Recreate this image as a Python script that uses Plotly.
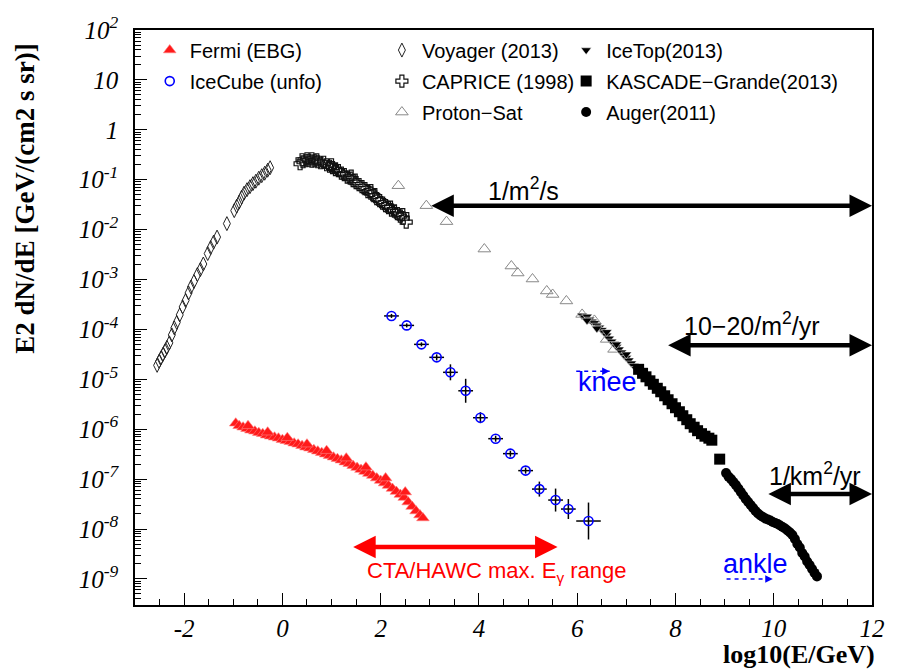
import plotly.graph_objects as go

# ---------------- data (log10 E/GeV , log10 flux) ----------------
voyager_x = [-2.55, -2.51, -2.47, -2.43, -2.39, -2.35, -2.30, -2.25, -2.20, -2.15, -2.09, -2.03,
             -1.97, -1.91, -1.86, -1.80, -1.73, -1.67, -1.61, -1.52, -1.46, -1.40, -1.33, -1.13,
             -0.98, -0.93, -0.88, -0.83, -0.78, -0.72, -0.66, -0.60, -0.54, -0.48, -0.42, -0.36,
             -0.30, -0.25]
voyager_logy = [-4.72, -4.64, -4.57, -4.50, -4.43, -4.36, -4.27, -4.11, -3.97, -3.86, -3.71, -3.55,
                -3.42, -3.27, -3.15, -3.04, -2.90, -2.80, -2.69, -2.48, -2.36, -2.25, -2.15, -1.88,
                -1.62, -1.53, -1.45, -1.35, -1.27, -1.20, -1.14, -1.08, -1.03, -0.97, -0.92, -0.87,
                -0.81, -0.76]

caprice_x = [0.36, 0.42, 0.48, 0.54, 0.60, 0.66, 0.72, 0.78, 0.84, 0.90, 0.96, 1.02, 1.08, 1.14,
             1.20, 1.26, 1.32, 1.38, 1.44, 1.50, 1.56, 1.62, 1.68, 1.74, 1.80, 1.86, 1.92, 1.98,
             2.04, 2.10, 2.16, 2.22, 2.28, 2.34, 2.40, 2.46, 2.52,
             0.40, 0.50, 0.60, 0.70, 1.00, 1.40, 1.80, 2.20, 2.45]
caprice_logy = [-0.68, -0.64, -0.62, -0.61, -0.63, -0.62, -0.64, -0.66, -0.65, -0.70, -0.73, -0.76,
                -0.80, -0.82, -0.87, -0.90, -0.95, -0.97, -1.02, -1.06, -1.10, -1.14, -1.18, -1.24,
                -1.27, -1.32, -1.38, -1.42, -1.47, -1.52, -1.56, -1.61, -1.63, -1.68, -1.73, -1.77,
                -1.85,
                -0.60, -0.58, -0.58, -0.60, -0.70, -0.93, -1.22, -1.55, -1.70]

protonsat_x = [2.36, 2.93, 3.34, 4.11, 4.66, 4.79, 5.09, 5.38, 5.50, 5.78, 6.10, 6.35, 6.60, 6.75]
protonsat_logy = [-1.12, -1.52, -1.84, -2.39, -2.73, -2.87, -2.99, -3.23, -3.30, -3.43, -3.70,
                  -3.82, -4.20, -4.40]

icetop_x = [6.10, 6.15, 6.20, 6.25, 6.30, 6.35, 6.40, 6.45, 6.50, 6.55, 6.60, 6.65, 6.70, 6.75,
            6.80, 6.85, 6.90, 6.95, 7.00, 7.05, 7.10, 7.15, 7.20, 7.25, 7.30,
            6.20, 6.40, 6.60, 6.80, 7.00]
icetop_logy = [-3.72, -3.76, -3.74, -3.80, -3.84, -3.87, -3.92, -3.96, -4.01, -4.06, -4.12, -4.18,
               -4.24, -4.29, -4.35, -4.40, -4.46, -4.52, -4.57, -4.62, -4.68, -4.73, -4.79, -4.84,
               -4.90,
               -3.82, -3.98, -4.05, -4.30, -4.50]

kascade_x = [7.25, 7.33, 7.40, 7.48, 7.55, 7.63, 7.70, 7.78, 7.85, 7.93, 8.00, 8.08, 8.15, 8.23,
             8.30, 8.38, 8.45, 8.53, 8.60, 8.68, 8.74, 8.90]
kascade_logy = [-4.80, -4.88, -4.95, -5.03, -5.10, -5.18, -5.25, -5.33, -5.41, -5.49, -5.57, -5.65,
                -5.73, -5.81, -5.89, -5.96, -6.03, -6.09, -6.14, -6.18, -6.22, -6.60]

auger_x = [9.03, 9.08, 9.13, 9.18, 9.23, 9.28, 9.33, 9.38, 9.43, 9.48, 9.53, 9.58, 9.63, 9.68,
           9.73, 9.78, 9.83, 9.88, 9.93, 9.98, 10.03, 10.08, 10.13, 10.18, 10.23, 10.28, 10.33,
           10.38, 10.43, 10.48, 10.53, 10.58, 10.63, 10.68, 10.73, 10.78, 10.83, 10.88]
auger_logy = [-6.88, -6.95, -7.00, -7.06, -7.12, -7.19, -7.26, -7.33, -7.40, -7.46, -7.52, -7.58,
              -7.64, -7.69, -7.73, -7.76, -7.79, -7.81, -7.83, -7.86, -7.88, -7.90, -7.93, -7.96,
              -7.99, -8.03, -8.07, -8.12, -8.20, -8.30, -8.37, -8.48, -8.55, -8.65, -8.72, -8.80,
              -8.88, -8.95]

fermi_x = [-0.95, -0.88, -0.80, -0.72, -0.64, -0.56, -0.48, -0.40, -0.32, -0.24, -0.16, -0.08,
           0.00, 0.08, 0.16, 0.24, 0.32, 0.40, 0.48, 0.56, 0.64, 0.72, 0.80, 0.88, 0.96, 1.04,
           1.12, 1.20, 1.28, 1.36, 1.44, 1.52, 1.60, 1.68, 1.76, 1.84, 1.92, 2.00, 2.08, 2.16,
           2.24, 2.32, 2.40, 2.48, 2.56, 2.64, 2.72, 2.80, 2.86,
           -0.70, -0.30, 0.10, 0.50, 0.90, 1.30, 1.70, 2.10, 2.50]
fermi_logy = [-5.88, -5.93, -5.96, -5.99, -6.02, -6.04, -6.07, -6.09, -6.12, -6.14, -6.16, -6.18,
              -6.21, -6.23, -6.25, -6.28, -6.30, -6.33, -6.36, -6.38, -6.41, -6.44, -6.47, -6.50,
              -6.53, -6.56, -6.59, -6.62, -6.66, -6.69, -6.73, -6.77, -6.81, -6.85, -6.89, -6.93,
              -6.98, -7.03, -7.08, -7.13, -7.19, -7.25, -7.31, -7.37, -7.46, -7.55, -7.64, -7.72,
              -7.78,
              -5.93, -6.06, -6.17, -6.30, -6.43, -6.58, -6.76, -6.98, -7.26]

icecube_x = [2.22, 2.53, 2.83, 3.14, 3.42, 3.73, 4.03, 4.34, 4.64, 4.95, 5.23, 5.56, 5.82, 6.23]
icecube_logy = [-3.73, -3.92, -4.30, -4.56, -4.86, -5.23, -5.77, -6.19, -6.49, -6.83, -7.20,
                -7.42, -7.60, -7.84]
icecube_xerr = [0.15, 0.15, 0.15, 0.15, 0.15, 0.15, 0.15, 0.15, 0.15, 0.15, 0.15, 0.15, 0.15, 0.25]
icecube_logyerr = [0.04, 0.04, 0.04, 0.06, 0.16, 0.24, 0.11, 0.06, 0.06, 0.06, 0.15, 0.23, 0.20, 0.37]

y_decades = [-9, -8, -7, -6, -5, -4, -3, -2, -1, 0, 1, 2]
y_tick_text = ["10<sup>-9</sup>", "10<sup>-8</sup>", "10<sup>-7</sup>", "10<sup>-6</sup>",
               "10<sup>-5</sup>", "10<sup>-4</sup>", "10<sup>-3</sup>", "10<sup>-2</sup>",
               "10<sup>-1</sup>", "1", "10", "10<sup>2</sup>"]
x_tick_vals = [-2, 0, 2, 4, 6, 8, 10, 12]
x_tick_text = ["-2", "0", "2", "4", "6", "8", "10", "12"]


def lin(v):
    return [10 ** a for a in v]


fig = go.Figure()

SERIF = "Liberation Serif"
SANS = "Liberation Sans"

# Group 2 (middle legend column)
fig.add_trace(go.Scatter(x=voyager_x, y=lin(voyager_logy), mode="markers", name="Voyager (2013)",
                         legend="legend2", legendgroup="g3",
                         marker=dict(symbol="diamond-tall-open", size=10, color="#222222",
                                     line=dict(width=1, color="#222222"))))
fig.add_trace(go.Scatter(x=caprice_x, y=lin(caprice_logy), mode="markers", name="CAPRICE (1998)",
                         legend="legend2", legendgroup="g4",
                         marker=dict(symbol="cross-open", size=10, color="#111111",
                                     line=dict(width=1.2, color="#111111"))))
fig.add_trace(go.Scatter(x=protonsat_x, y=lin(protonsat_logy), mode="markers", name="Proton−Sat",
                         legend="legend2", legendgroup="g5",
                         marker=dict(symbol="triangle-up-open", size=11, color="#888888",
                                     line=dict(width=1, color="#888888"))))
# Group 3 (right legend column)
fig.add_trace(go.Scatter(x=icetop_x, y=lin(icetop_logy), mode="markers", name="IceTop(2013)",
                         legend="legend3", legendgroup="g6",
                         marker=dict(symbol="triangle-down", size=9, color="black",
                                     line=dict(width=0.5, color="white"))))
fig.add_trace(go.Scatter(x=kascade_x, y=lin(kascade_logy), mode="markers",
                         name="KASCADE−Grande(2013)", legend="legend3", legendgroup="g7",
                         marker=dict(symbol="square", size=11, color="black")))
fig.add_trace(go.Scatter(x=auger_x, y=lin(auger_logy), mode="markers", name="Auger(2011)",
                         legend="legend3", legendgroup="g8",
                         marker=dict(symbol="circle", size=10, color="black")))
# Group 1 (left legend column)
fig.add_trace(go.Scatter(x=fermi_x, y=lin(fermi_logy), mode="markers", name="Fermi (EBG)",
                         legend="legend", legendgroup="g1",
                         marker=dict(symbol="triangle-up", size=11, color="#ff1a1a",
                                     line=dict(width=0.6, color="#ff8080"))))

ic_y = lin(icecube_logy)
ic_plus = [y * (10 ** e - 1) for y, e in zip(ic_y, icecube_logyerr)]
ic_minus = [y * (1 - 10 ** (-e)) for y, e in zip(ic_y, icecube_logyerr)]
fig.add_trace(go.Scatter(x=icecube_x, y=ic_y, mode="markers", name="IceCube (unfo)",
                         legend="legend", legendgroup="g2",
                         error_x=dict(type="data", array=icecube_xerr, color="black",
                                      thickness=1.5, width=0),
                         error_y=dict(type="data", array=ic_plus, arrayminus=ic_minus,
                                      color="black", thickness=1.5, width=0),
                         marker=dict(symbol="circle-open", size=9, color="#0000ff",
                                     line=dict(width=1.6, color="#0000ff"))))

# dashed knee / ankle indicator arrows
knee_x = [5.98, 6.66]
knee_logy = [-4.84, -4.84]
ankle_x = [9.04, 9.98]
ankle_logy = [-9.00, -9.00]
for xs, ys in [(knee_x, knee_logy), (ankle_x, ankle_logy)]:
    fig.add_trace(go.Scatter(x=xs, y=lin(ys), mode="lines", showlegend=False, hoverinfo="skip",
                             line=dict(color="#0000ff", width=1.5, dash="4px,4px")))

# invisible trace to carry the minor-tick overlay axis
fig.add_trace(go.Scatter(x=[-3], y=[1.0], yaxis="y2", mode="markers", showlegend=False,
                         hoverinfo="skip", marker=dict(opacity=0)))

annotations = []


def harrow(x0, x1, logy, color, width, size):
    annotations.append(dict(x=x1, y=logy, ax=x0, ay=logy, xref="x", yref="y", axref="x",
                            ayref="y", text="", showarrow=True, arrowhead=2,
                            arrowside="end+start", arrowwidth=width, arrowsize=size,
                            arrowcolor=color, standoff=0, startstandoff=0))


harrow(3.0, 12.0, -1.52, "black", 4.5, 1.0)
harrow(7.82, 12.0, -4.32, "black", 4.5, 1.0)
harrow(9.86, 12.0, -7.30, "black", 4.5, 1.0)
harrow(1.41, 5.60, -8.36, "#ff0000", 4.5, 1.0)

# small arrow heads for dashed arrows
for x, ly in [(knee_x[1], knee_logy[1]), (ankle_x[1], ankle_logy[1])]:
    annotations.append(dict(x=x, y=ly, ax=-8, ay=0, xref="x", yref="y", text="", showarrow=True,
                            arrowhead=2, arrowwidth=1.5, arrowsize=1, arrowcolor="#0000ff"))


def label(text, x, logy, color, size):
    annotations.append(dict(x=x, y=logy, xref="x", yref="y", text=text, showarrow=False,
                            font=dict(family=SANS, size=size, color=color),
                            xanchor="center", yanchor="middle"))


label("1/m<sup>2</sup>/s", 4.90, -1.18, "black", 25)
label("10−20/m<sup>2</sup>/yr", 9.55, -3.90, "black", 25)
label("1/km<sup>2</sup>/yr", 10.84, -6.90, "black", 25)
label("CTA/HAWC max. E<sub>γ</sub> range", 4.36, -8.87, "#ff0000", 22)
label("knee", 6.62, -5.06, "#0000ff", 27)
label("ankle", 9.62, -8.70, "#0000ff", 27)

# axis titles
annotations.append(dict(x=-0.149, y=0.707, xref="paper", yref="paper", textangle=-90,
                        text="E2 dN/dE [GeV/(cm2 s sr)]", showarrow=False,
                        font=dict(family=SERIF, size=27, color="black", weight="bold"),
                        xanchor="center", yanchor="middle"))
annotations.append(dict(x=1.007, y=-0.086, xref="paper", yref="paper",
                        text="log10(E/GeV)", showarrow=False,
                        font=dict(family=SERIF, size=26, color="black", weight="bold"),
                        xanchor="right", yanchor="middle"))

legend_common = dict(xanchor="left", yanchor="top", bgcolor="rgba(0,0,0,0)",
                     font=dict(family=SANS, size=20, color="black"), itemwidth=30,
                     tracegroupgap=2, borderwidth=0)

# minor tick positions on the log axis (2..9 x 10^k)
y_minor_ticks = [m * 10.0 ** k for k in range(-10, 2) for m in range(2, 10)]
y_range = [-9.523, 2]

fig.update_layout(
    width=897, height=671,
    margin=dict(l=135, r=25, t=25, b=66),
    paper_bgcolor="white", plot_bgcolor="white",
    annotations=annotations,
    legend=dict(x=0.02, y=0.999, **legend_common),
    legend2=dict(x=0.335, y=0.999, **legend_common),
    legend3=dict(x=0.585, y=0.999, **legend_common),
    xaxis=dict(range=[-3, 12], tickmode="array", tickvals=x_tick_vals, ticktext=x_tick_text,
               ticks="inside", ticklen=12, tickwidth=1.2,
               tickcolor="black", showline=True, linecolor="black", linewidth=1.5, mirror=True,
               showgrid=False, zeroline=False,
               tickfont=dict(family=SERIF, size=25, color="black", style="italic"),
               minor=dict(tickmode="linear", tick0=0, dtick=0.5, ticks="inside", ticklen=6,
                          tickcolor="black", showgrid=False)),
    yaxis=dict(type="log", range=y_range, tickmode="array",
               tickvals=[10.0 ** d for d in y_decades], ticktext=y_tick_text,
               ticks="inside", ticklen=12, tickwidth=1.2, tickcolor="black",
               showline=True, linecolor="black", linewidth=1.5, mirror=True,
               showgrid=False, zeroline=False, ticklabelstandoff=10,
               tickfont=dict(family=SERIF, size=25, color="black", style="italic")),
    yaxis2=dict(type="log", range=y_range, overlaying="y", side="left", tickmode="array",
                tickvals=y_minor_ticks, ticks="inside", ticklen=6, tickwidth=1,
                tickcolor="black", showticklabels=False, showline=False, showgrid=False,
                zeroline=False),
)

fig.write_html("out.html")
